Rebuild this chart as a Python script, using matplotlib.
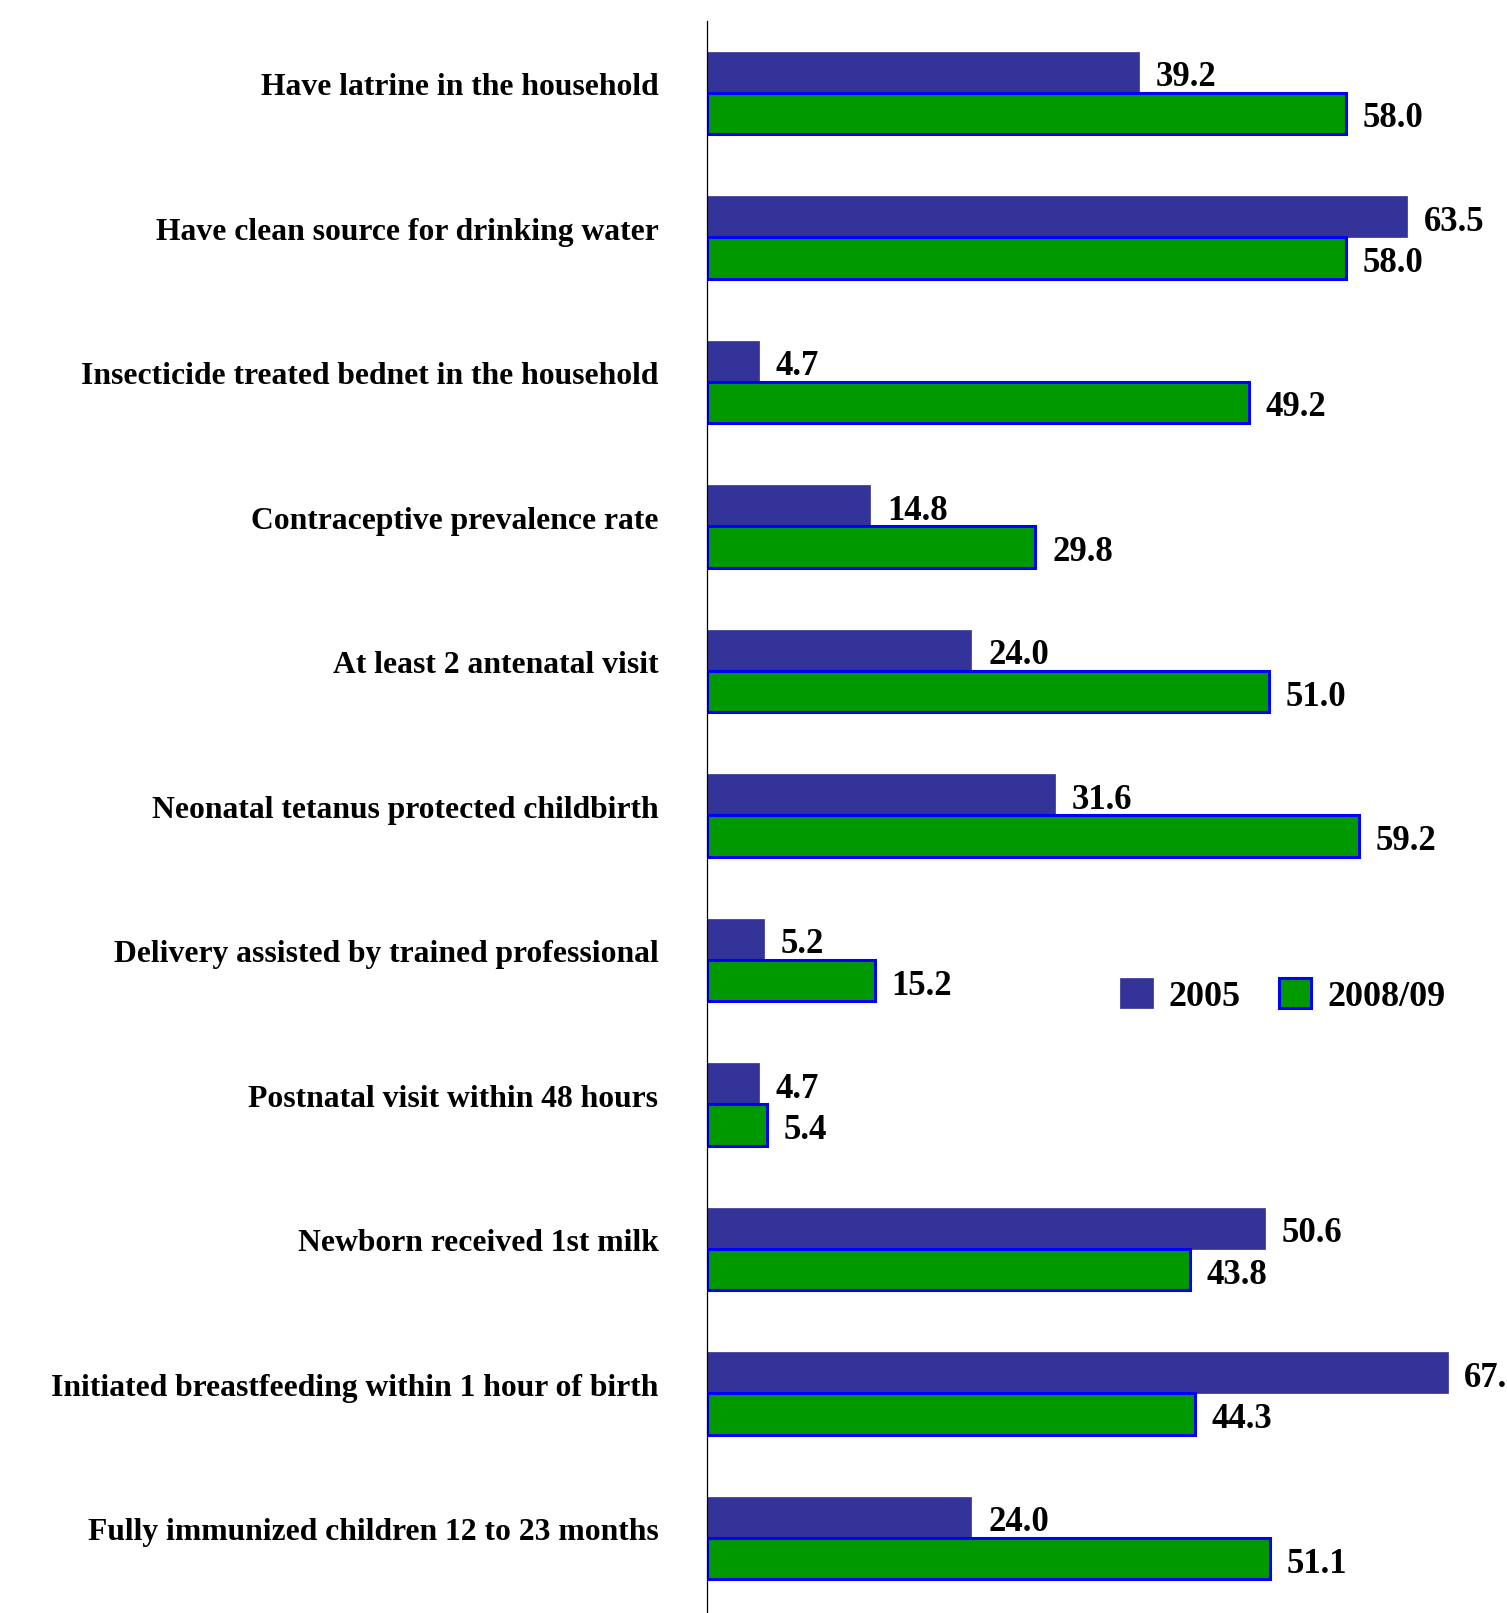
import matplotlib
matplotlib.use("Agg")
import matplotlib.pyplot as plt
import numpy as np
from matplotlib.patches import Patch

CATEGORIES = [
    "Have latrine in the household",
    "Have clean source for drinking water",
    "Insecticide treated bednet in the household",
    "Contraceptive prevalence rate",
    "At least 2 antenatal visit",
    "Neonatal tetanus protected childbirth",
    "Delivery assisted by trained professional",
    "Postnatal visit within 48 hours",
    "Newborn received 1st milk",
    "Initiated breastfeeding within 1 hour of birth",
    "Fully immunized children 12 to 23 months",
]
VALUES_2005 = [39.2, 63.5, 4.7, 14.8, 24.0, 31.6, 5.2, 4.7, 50.6, 67.2, 24.0]
VALUES_2008 = [58.0, 58.0, 49.2, 29.8, 51.0, 59.2, 15.2, 5.4, 43.8, 44.3, 51.1]
SERIES_LABELS = ["2005", "2008/09"]

BLUE = "#333399"
GREEN = "#009900"
EDGE = "#0000FF"
CAT_FONT = dict(family="Liberation Serif", weight="bold", size=22.8)
VAL_FONT = dict(family="Liberation Serif", weight="bold", size=25)

W, H = 1507, 1613
fig = plt.figure(figsize=(W / 100, H / 100), dpi=100)
left = 707 / W
top = 20.6 / H
ax = fig.add_axes([left, 0.0, 1.0 - left, 1.0 - top])

y = np.arange(len(CATEGORIES))
h = 0.285
off = h / 2

b1 = ax.barh(y - off, VALUES_2005, height=h, color=BLUE, edgecolor=BLUE, linewidth=0.5)
b2 = ax.barh(y + off, VALUES_2008, height=h, color=GREEN, edgecolor=EDGE, linewidth=2.2)

# value labels; the last 2005 label runs off the right edge like in the source
for bars, vals in [(b1, VALUES_2005), (b2, VALUES_2008)]:
    for bar, val in zip(bars, vals):
        ax.annotate(f"{val:.1f}", (bar.get_width(), bar.get_y() + bar.get_height() / 2),
                    xytext=(12, -4), textcoords="offset points", va="center", ha="left",
                    annotation_clip=False, **VAL_FONT)

ax.set_xlim(0, (W - 707) / 11.02)
ax.set_ylim(len(CATEGORIES) - 0.48, -0.5)

ax.set_yticks(y - 0.06)
ax.set_yticklabels(CATEGORIES, fontdict=CAT_FONT)
ax.tick_params(axis="y", length=0, pad=35)
ax.set_xticks([])

for s in ["top", "right", "bottom"]:
    ax.spines[s].set_visible(False)
ax.spines["left"].set_linewidth(0.9)

handles = [Patch(facecolor=BLUE, edgecolor=BLUE, linewidth=0.5),
           Patch(facecolor=GREEN, edgecolor=EDGE, linewidth=2.2)]
fig.legend(handles, SERIES_LABELS, loc="center left",
           bbox_to_anchor=(1120 / W, 1 - 996 / H), ncol=2, frameon=False,
           borderpad=0, borderaxespad=0,
           handlelength=0.9, handleheight=0.9, handletextpad=0.45, columnspacing=1.05,
           prop=dict(family="Liberation Serif", weight="bold", size=26))

fig.savefig("out.png", dpi=100)
